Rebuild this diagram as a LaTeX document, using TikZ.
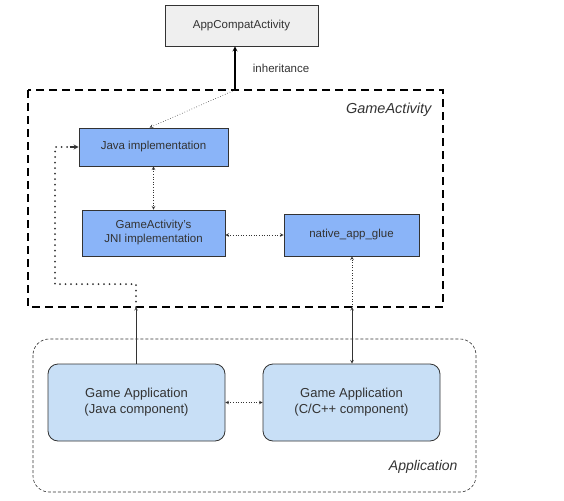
\documentclass[tikz,border=0pt]{standalone}
\usepackage{fontspec}
\setmainfont{Liberation Sans}
\usetikzlibrary{arrows}
\definecolor{boxgray}{HTML}{EFEFEF}
\definecolor{javablue}{HTML}{8AB4F8}
\definecolor{appblue}{HTML}{C8DFF6}
\definecolor{edge}{HTML}{333333}
\tikzset{
    box/.style={draw=edge, thick, align=center, inner sep=0pt, font=\fontsize{11.5}{14}\selectfont, text=edge},
    gamebox/.style={box, fill=appblue, rounded corners=10pt, minimum width=177pt, minimum height=77pt, font=\fontsize{13}{16}\selectfont},
    dots/.style={dotted, semithick, edge},
    bigdots/.style={line width=2pt, edge, line cap=round, dash pattern=on 0pt off 5.5pt}
}
\begin{document}
\begin{tikzpicture}[>=stealth, x=1pt, y=-1pt]
\useasboundingbox (0,0) rectangle (564,500);
% the two frames
\draw[very thick, dashed, dash pattern=on 8pt off 5pt](28,90) rectangle (443,307);
\node[anchor=east, font=\fontsize{14.5}{17}\selectfont\itshape, text=edge] (galabel) at (435,110) {GameActivity};
\draw[semithick, dashed, dash pattern=on 3pt off 2pt, rounded corners=16pt, edge](33,339) rectangle (476,492);
\node[anchor=east, font=\fontsize{14}{17}\selectfont\itshape, text=edge] (applabel) at (461,467) {Application};

\node[box, fill=boxgray, minimum width=153pt, minimum height=41pt] (app) at (241.5,25.5) {AppCompatActivity};
\node[box, fill=javablue, minimum width=149pt, minimum height=38pt] (java) at (153.5,147) {Java implementation};
\node[box, fill=javablue, minimum width=143pt, minimum height=46pt] (jni) at (153.5,233) {GameActivity's\\JNI implementation};
\node[box, fill=javablue, minimum width=135pt, minimum height=42pt] (glue) at (351.5,235) {native\_app\_glue};
\node[gamebox] (gjava) at (136.5,402.5) {Game Application\\(Java component)};
\node[gamebox] (gcpp) at (351.5,402.5) {Game Application\\(C/C++ component)};

\coordinate (inh) at (235,90);
\coordinate (gb) at (352,307);
\coordinate (ja) at (136,307);
\coordinate (lc) at (55,284);

\draw[->, very thick](inh)--(app.south -| inh)node[midway, right=14pt, font=\fontsize{11.5}{14}\selectfont, text=edge]{inheritance};
\draw[dots, ->](inh)--([xshift=-4pt]java.north);
\draw[dots, <->](java.south)--(jni.north);
\draw[dots, <->](jni.east |- glue)--(glue.west);
\draw[dots, ->](gb)--(glue.south -| gb);
\draw[<->, semithick, edge](gb)--(gcpp.north -| gb);
\draw[bigdots](ja)--(ja |- lc)--(lc)--(lc |- java)--([xshift=-9pt]java.west);
\draw[->, very thick, edge]([xshift=-9pt]java.west)--(java.west);
\draw[->, semithick, edge](gjava.north -| ja)--(ja);
\draw[dots, <->](gjava.east)--(gcpp.west);
\end{tikzpicture}
\end{document}
